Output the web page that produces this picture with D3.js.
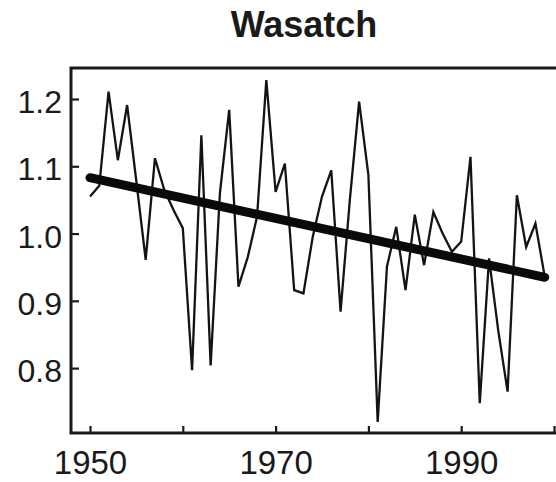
<!DOCTYPE html>
<html>
<head>
<meta charset="utf-8">
<script src="https://cdn.jsdelivr.net/npm/d3@7"></script>
<style>
  body { margin: 0; background: #fff; }
  svg { display: block; font-family: "Liberation Sans", Arial, Helvetica, sans-serif; }
</style>
</head>
<body>
<svg id="chart" width="556" height="482"></svg>
<script>
// Wasatch series, one value per year 1950..1999
var years = d3.range(1950, 2000);
var values = [
  1.055, 1.071, 1.211, 1.109, 1.191, 1.077, 0.961, 1.112, 1.065, 1.035,
  1.008, 0.797, 1.146, 0.804, 1.060, 1.184, 0.921, 0.965, 1.025, 1.228,
  1.062, 1.104, 0.916, 0.911, 0.995, 1.055, 1.094, 0.884, 1.050, 1.196,
  1.087, 0.720, 0.951, 1.010, 0.916, 1.028, 0.953, 1.032, 1.000, 0.973,
  0.988, 1.114, 0.748, 0.963, 0.855, 0.765, 1.057, 0.980, 1.015, 0.936
];
// trend line ends (1950, 1999)
var trendYears = [1950, 1999];
var trendValues = [1.083, 0.935];

var yTicks = [0.8, 0.9, 1.0, 1.1, 1.2];
var xTicks = [1950, 1960, 1970, 1980, 1990, 2000];
var xLabels = [1950, 1970, 1990];

var svg = d3.select('#chart');

// plot box edges (px)
var boxL = 71, boxR = 556, boxT = 68, boxB = 433;

var x = d3.scaleLinear().domain([1950, 2000]).range([90, 554]);
var y = d3.scaleLinear().domain([0.8, 1.2]).range([368.1, 99]);

// title
svg.append('text')
  .attr('x', 304)
  .attr('y', 37)
  .attr('text-anchor', 'middle')
  .style('font-size', '36px')
  .style('font-weight', 'bold')
  .style('fill', '#1a1a1a')
  .text('Wasatch');

// axes
var yAxis = d3.axisLeft(y)
  .tickValues(yTicks)
  .tickSizeInner(-8)
  .tickSizeOuter(0)
  .tickPadding(9)
  .tickFormat(d3.format('.1f'));

var gy = svg.append('g')
  .attr('transform', 'translate(' + boxL + ',0)')
  .call(yAxis);
gy.select('.domain').remove();
gy.selectAll('line').attr('stroke', '#1a1a1a').attr('stroke-width', 2.2);
gy.selectAll('text')
  .attr('dy', '0.42em')
  .style('font-size', '32px')
  .style('fill', '#1a1a1a');

var xAxis = d3.axisBottom(x)
  .tickValues(xTicks)
  .tickSizeInner(-7)
  .tickSizeOuter(0)
  .tickFormat(function(d) { return xLabels.indexOf(d) >= 0 ? d : ''; });

var gx = svg.append('g')
  .attr('transform', 'translate(0,' + boxB + ')')
  .call(xAxis);
gx.select('.domain').remove();
gx.selectAll('line').attr('stroke', '#1a1a1a').attr('stroke-width', 2.2);
gx.selectAll('text')
  .attr('y', 41)
  .attr('dy', 0)
  .style('font-size', '33px')
  .style('fill', '#1a1a1a');

// frame: top, left, bottom (no right side)
svg.append('path')
  .attr('d', 'M' + boxR + ',' + boxT + 'H' + boxL + 'V' + boxB + 'H' + boxR)
  .attr('fill', 'none')
  .attr('stroke', '#1a1a1a')
  .attr('stroke-width', 3);

// yearly series
var line = d3.line()
  .x(function(d, i) { return x(years[i]); })
  .y(function(d) { return y(d); });

svg.append('path')
  .datum(values)
  .attr('d', line)
  .attr('fill', 'none')
  .attr('stroke', '#141414')
  .attr('stroke-width', 2.3)
  .attr('stroke-linejoin', 'miter');

// trend
svg.append('path')
  .datum(trendValues)
  .attr('d', d3.line()
    .x(function(d, i) { return x(trendYears[i]); })
    .y(function(d) { return y(d); }))
  .attr('fill', 'none')
  .attr('stroke', '#0a0a0a')
  .attr('stroke-width', 9)
  .attr('stroke-linecap', 'round');
</script>
</body>
</html>
